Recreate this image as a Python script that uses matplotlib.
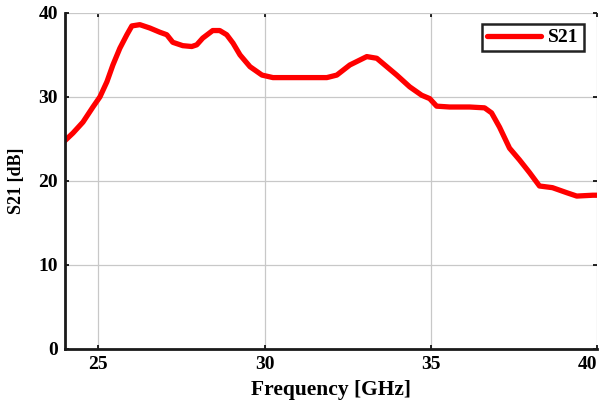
import matplotlib
matplotlib.use("Agg")
import matplotlib.pyplot as plt

# Measured transmission S21 versus frequency
freq_ghz = [24.0, 24.24, 24.54, 24.84, 25.05, 25.26, 25.44, 25.65, 25.86, 26.01,
            26.25, 26.55, 26.85, 27.06, 27.24, 27.54, 27.81, 27.96, 28.14, 28.44,
            28.65, 28.86, 29.05, 29.26, 29.56, 29.92, 30.25, 30.97, 31.87, 32.17,
            32.56, 33.07, 33.37, 33.67, 33.97, 34.36, 34.72, 34.96, 35.17, 35.56,
            36.16, 36.61, 36.82, 37.06, 37.36, 37.66, 37.96, 38.26, 38.65, 39.08,
            39.38, 39.86, 40.0]
s21_db = [24.8, 25.7, 27.0, 28.8, 30.0, 31.8, 33.8, 35.8, 37.4, 38.45,
          38.6, 38.2, 37.7, 37.4, 36.5, 36.1, 36.0, 36.2, 37.0, 37.9,
          37.9, 37.4, 36.4, 35.0, 33.6, 32.6, 32.3, 32.3, 32.3, 32.6,
          33.8, 34.8, 34.6, 33.6, 32.6, 31.2, 30.2, 29.8, 28.9, 28.8,
          28.8, 28.7, 28.1, 26.4, 23.9, 22.5, 21.0, 19.4, 19.2, 18.6,
          18.2, 18.3, 18.3]
x_ticks = [25, 30, 35, 40]
y_ticks = [0, 10, 20, 30, 40]

plt.rcParams['font.family'] = ['Liberation Serif', 'DejaVu Serif']
plt.rcParams['font.weight'] = 'bold'

fig = plt.figure(figsize=(6.05, 4.03), dpi=100)
ax = fig.add_axes([0.1074, 0.134, 0.880, 0.834])

ax.plot(freq_ghz, s21_db, color='#ff0000', lw=3.8, label='S21',
        solid_joinstyle='round', solid_capstyle='round')

ax.set_xlim(24, 40)
ax.set_ylim(0, 40)
ax.set_xticks(x_ticks)
ax.set_yticks(y_ticks)
ax.grid(True, color='#c8c8c8', lw=0.9)
ax.tick_params(direction='in', length=3, width=1.2, labelsize=14,
               top=True, right=True, pad=5)
xlabels = ax.get_xticklabels()
for lab in xlabels + ax.get_yticklabels():
    lab.set_fontweight('bold')
# keep the last frequency label inside the figure edge
xlabels[-1].set_horizontalalignment('right')

for side in ('top', 'right'):
    ax.spines[side].set_visible(False)
for side in ('left', 'bottom'):
    ax.spines[side].set_linewidth(2.0)
    ax.spines[side].set_color('#1a1a1a')

ax.set_xlabel('Frequency [GHz]', fontsize=15.5, fontweight='bold', labelpad=5)
ax.set_ylabel('S21 [dB]', fontsize=13, fontweight='bold', labelpad=10)

leg = ax.legend(loc='upper right', bbox_to_anchor=(0.974, 0.967), fancybox=False,
                edgecolor='#222222', framealpha=1, handlelength=2.8,
                handletextpad=0.35, borderaxespad=0,
                prop={'weight': 'bold', 'size': 14}, borderpad=0.25)
leg.get_frame().set_linewidth(1.8)

fig.savefig('out.png', dpi=100)
